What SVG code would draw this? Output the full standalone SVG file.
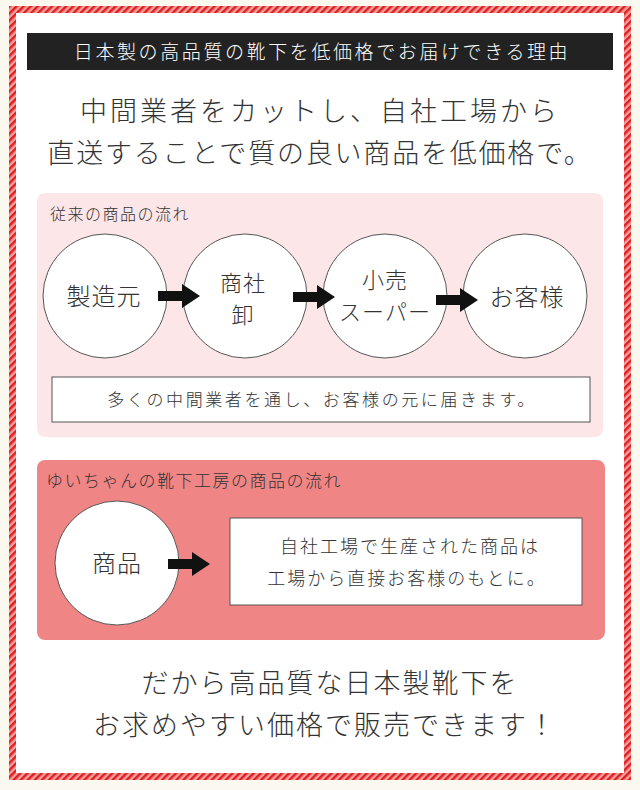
<svg xmlns="http://www.w3.org/2000/svg" width="640" height="790" viewBox="0 0 640 790">
<defs>
<pattern id="st" width="5" height="5" patternUnits="userSpaceOnUse" patternTransform="rotate(45)"><rect width="5" height="5" fill="#f4a0a0"/><rect width="2.5" height="5" fill="#e02020"/></pattern>
<path id="arr" d="M0,-5H24V-12L42,0L24,12V5H0z" fill="#111"/>
</defs>
<style>
text{font-family:"Noto Sans CJK JP","Noto Sans CJK SC",sans-serif;font-weight:300;fill:#333;text-anchor:middle}
.c{fill:#fff;stroke:#555;stroke-width:1}
.n{font-size:24px;letter-spacing:1px}
.m{font-size:22px;letter-spacing:1px}
</style>
<rect width="640" height="790" fill="#fbf8f0"/>
<rect x="9" y="6" width="622" height="774" fill="url(#st)"/>
<rect x="16" y="13" width="608" height="760" fill="#fff"/>
<g id="header"><rect x="27" y="33" width="586" height="37" fill="#222"/>
<text x="322" y="59" font-size="19" letter-spacing="2.6" style="fill:#fff">日本製の高品質の靴下を低価格でお届けできる理由</text></g>
<g id="title"><text x="320" y="121" font-size="27" letter-spacing="3">中間業者をカットし、自社工場から</text>
<text x="320" y="163" font-size="27" letter-spacing="1.8">直送することで質の良い商品を低価格で。</text></g>
<g id="old"><rect x="37" y="193" width="566" height="244" rx="8" fill="#fde6e8"/>
<text x="50" y="220" font-size="16" letter-spacing="1.5" style="text-anchor:start">従来の商品の流れ</text>
<rect x="52" y="377" width="538" height="45" fill="#fff" stroke="#555"/>
<text x="322" y="406" font-size="17" letter-spacing="2.6">多くの中間業者を通し、お客様の元に届きます。</text></g>
<g id="n1"><circle class="c" cx="105" cy="296" r="62"/><text class="n" x="104" y="305">製造元</text></g>
<g id="n2"><circle class="c" cx="245" cy="296" r="62"/><text class="m" x="243" y="291">商社</text><text class="m" x="243" y="323">卸</text></g>
<g id="n3"><circle class="c" cx="385" cy="296" r="62"/><text class="m" x="385" y="288">小売</text><text class="m" x="385" y="320">スーパー</text></g>
<g id="n4"><circle class="c" cx="525" cy="296" r="62"/><text class="n" x="527" y="306">お客様</text></g>
<g id="new"><rect x="37" y="460" width="568" height="180" rx="8" fill="#f08585"/>
<text x="46" y="487" font-size="17" letter-spacing="1.5" style="text-anchor:start">ゆいちゃんの靴下工房の商品の流れ</text>
<rect x="230" y="518" width="352" height="87" fill="#fff" stroke="#555"/>
<text x="410" y="553" font-size="18" letter-spacing="2">自社工場で生産された商品は</text>
<text x="407" y="585" font-size="18" letter-spacing="2">工場から直接お客様のもとに。</text></g>
<g id="n5"><circle class="c" cx="117" cy="563" r="62"/><text class="n" x="117" y="572">商品</text></g>
<g id="connectors">
<use href="#arr" x="158" y="296"/>
<use href="#arr" x="293" y="297"/>
<use href="#arr" x="436" y="300"/>
<use href="#arr" x="168" y="564"/>
</g>
<g id="footer"><text x="330" y="693" font-size="27" letter-spacing="2">だから高品質な日本製靴下を</text>
<text x="325" y="735" font-size="27" letter-spacing="2">お求めやすい価格で販売できます！</text></g>
</svg>
